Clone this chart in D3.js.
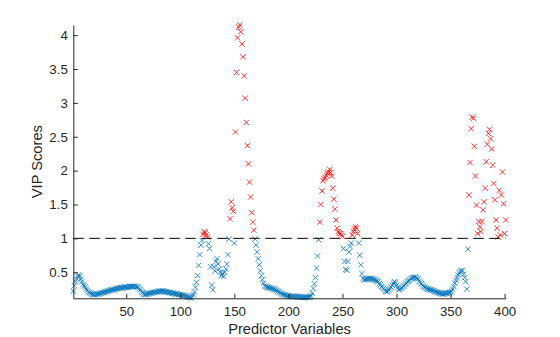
<!DOCTYPE html>
<html><head><meta charset="utf-8">
<script src="https://cdn.jsdelivr.net/npm/d3@7"></script>
<style>body{margin:0;background:#fff} text{font-family:"Liberation Sans",Arial,Helvetica,sans-serif}</style>
</head><body><svg id="c" width="560" height="337"></svg>
<script>
// VIP score for each predictor variable (1..401)
const vip = [
0.22,0.30,0.36,0.40,0.44,0.46,0.44,0.40,0.36,0.32,
0.30,0.28,0.25,0.23,0.21,0.20,0.19,0.18,0.17,0.17,
0.17,0.17,0.18,0.18,0.18,0.19,0.19,0.20,0.20,0.21,
0.21,0.22,0.22,0.23,0.23,0.24,0.24,0.24,0.25,0.25,
0.26,0.26,0.26,0.27,0.27,0.27,0.27,0.28,0.28,0.28,
0.28,0.28,0.29,0.29,0.29,0.29,0.29,0.29,0.29,0.28,
0.28,0.26,0.24,0.22,0.20,0.18,0.17,0.17,0.18,0.18,
0.19,0.19,0.19,0.20,0.20,0.20,0.21,0.21,0.21,0.22,
0.22,0.22,0.22,0.22,0.22,0.21,0.21,0.21,0.20,0.20,
0.20,0.19,0.19,0.19,0.18,0.18,0.18,0.17,0.17,0.17,
0.16,0.16,0.16,0.15,0.15,0.14,0.14,0.13,0.13,0.115,
0.14,0.17,0.21,0.28,0.35,0.45,0.60,0.76,0.90,0.97,
1.06,1.10,1.08,1.05,1.02,0.92,0.85,0.58,0.31,0.24,
0.58,0.52,0.66,0.70,0.62,0.55,0.50,0.45,0.48,0.44,
0.50,0.55,0.62,0.76,0.99,1.29,1.54,1.45,1.40,0.93,
2.57,3.45,3.96,4.12,4.15,4.05,3.87,3.68,3.40,3.07,
2.71,2.37,2.10,1.83,1.61,1.38,1.24,1.12,0.99,0.90,
0.80,0.70,0.61,0.52,0.45,0.39,0.34,0.30,0.29,0.28,
0.28,0.27,0.27,0.26,0.26,0.25,0.25,0.24,0.23,0.22,
0.21,0.20,0.19,0.18,0.17,0.17,0.16,0.16,0.15,0.15,
0.15,0.14,0.14,0.14,0.14,0.14,0.14,0.14,0.14,0.14,
0.13,0.13,0.13,0.13,0.13,0.13,0.13,0.13,0.13,0.14,
0.15,0.19,0.26,0.33,0.42,0.56,0.74,0.98,1.24,1.50,
1.70,1.85,1.88,1.90,1.93,1.96,1.98,2.02,1.97,1.92,
1.74,1.58,1.43,1.27,1.15,1.10,1.08,1.07,1.05,1.03,
0.85,0.66,0.54,0.53,0.66,0.80,0.88,0.93,1.05,1.10,
1.14,1.17,1.15,1.07,0.93,0.75,0.61,0.48,0.41,0.39,
0.39,0.40,0.40,0.40,0.41,0.41,0.40,0.40,0.39,0.39,
0.38,0.37,0.36,0.33,0.31,0.29,0.28,0.26,0.24,0.22,
0.21,0.22,0.24,0.26,0.28,0.31,0.34,0.36,0.35,0.31,
0.27,0.24,0.25,0.26,0.27,0.29,0.30,0.32,0.34,0.36,
0.37,0.38,0.40,0.41,0.42,0.42,0.43,0.42,0.41,0.40,
0.37,0.35,0.33,0.31,0.29,0.28,0.27,0.26,0.25,0.25,
0.24,0.24,0.23,0.23,0.22,0.21,0.21,0.20,0.20,0.19,
0.19,0.18,0.18,0.18,0.19,0.19,0.19,0.20,0.20,0.21,
0.22,0.25,0.29,0.34,0.38,0.42,0.46,0.49,0.51,0.53,
0.52,0.47,0.42,0.36,0.25,0.84,1.64,2.12,2.62,2.79,
2.77,2.36,1.92,1.49,1.07,1.25,1.17,1.10,1.25,1.42,
1.54,1.74,2.13,2.39,2.55,2.61,2.47,2.32,2.08,1.81,
1.57,1.27,1.15,1.02,1.71,1.05,1.64,1.98,1.51,1.07,
1.27
];
const predictors = vip.map((v, i) => i + 1);
const xTicks = [50, 100, 150, 200, 250, 300, 350, 400];
const yTicks = [0.5, 1, 1.5, 2, 2.5, 3, 3.5, 4];
const yTickLabels = ["0.5", "1", "1.5", "2", "2.5", "3", "3.5", "4"];
const threshold = 1;
const xLabel = "Predictor Variables";
const yLabel = "VIP Scores";

const W = 560, H = 337, L = 73.3, R = 505.7, T = 25, B = 298.3;
const axisColor = "#262626";
const svg = d3.select("#c");
svg.append("rect").attr("width", W).attr("height", H).attr("fill", "#fff");

const x = d3.scaleLinear().domain(d3.extent(predictors)).range([L, R]);
const y = d3.scaleLinear().domain(d3.extent(vip)).range([B, T]);

// markers
const s = 2.7;
const pts = predictors.map((p, i) => ({p, v: vip[i]}));
svg.append("g").selectAll("path").data(pts).join("path")
  .attr("transform", d => `translate(${x(d.p)},${y(d.v)})`)
  .attr("d", `M${-s},${-s}L${s},${s}M${-s},${s}L${s},${-s}`)
  .attr("fill", "none")
  .attr("stroke", d => d.v > threshold ? "#FF0000" : "#0072BD")
  .attr("stroke-width", 0.8);

// threshold dashed line
svg.append("line")
  .attr("x1", x(predictors[0])).attr("x2", x(predictors[predictors.length - 1]))
  .attr("y1", y(threshold)).attr("y2", y(threshold))
  .attr("stroke", "#000").attr("stroke-width", 1)
  .attr("stroke-dasharray", "10.5,5.5");

// axes
const xAxis = d3.axisBottom(x).tickValues(xTicks).tickSizeInner(-4.5).tickSizeOuter(0).tickPadding(8.5);
const gx = svg.append("g").attr("transform", `translate(0,${B})`).call(xAxis);
const yAxis = d3.axisLeft(y).tickValues(yTicks).tickFormat((d, i) => yTickLabels[i])
  .tickSizeInner(-4.5).tickSizeOuter(0).tickPadding(5.5);
const gy = svg.append("g").attr("transform", `translate(${L},0)`).call(yAxis);
gx.attr("transform", `translate(0,${B})`);
[gx, gy].forEach(g => {
  g.select(".domain").attr("stroke", axisColor).attr("stroke-width", 1);
  g.selectAll(".tick line").attr("stroke", axisColor).attr("stroke-width", 1);
  g.selectAll(".tick text").attr("fill", axisColor).attr("font-size", 13.3)
    .style("font-family", '"Liberation Sans", Arial, Helvetica, sans-serif');
});

svg.append("text").attr("x", (L + R) / 2).attr("y", 334)
  .attr("text-anchor", "middle").attr("font-size", 14.67).attr("fill", axisColor).text(xLabel);
svg.append("text").attr("transform", `translate(42,${(T + B) / 2}) rotate(-90)`)
  .attr("text-anchor", "middle").attr("font-size", 14.67).attr("fill", axisColor).text(yLabel);
</script></body></html>
